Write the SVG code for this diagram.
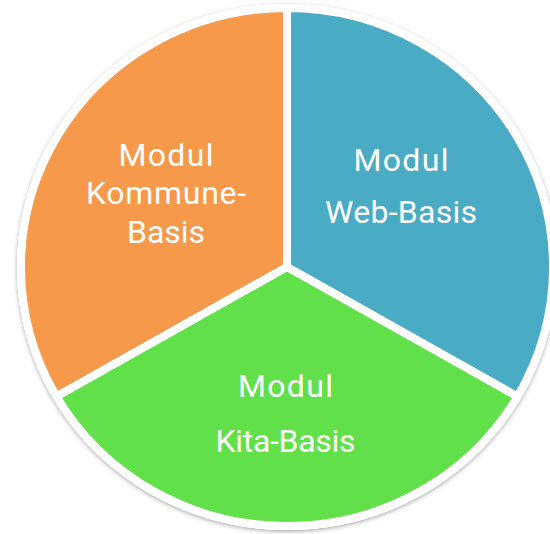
<svg xmlns="http://www.w3.org/2000/svg" width="550" height="534" viewBox="0 0 550 534">
  <defs>
    <filter id="shadow" x="-10%" y="-10%" width="120%" height="120%">
      <feDropShadow dx="0" dy="1.5" stdDeviation="2" flood-color="#000" flood-opacity="0.35"/>
    </filter>
  </defs>
  <style>
    .seg { stroke: #ffffff; stroke-width: 8; stroke-linejoin: miter; }
    .lbl { font-family: Roboto, "Open Sans", "Noto Sans", sans-serif; font-size: 32px; fill: #ffffff; text-anchor: middle; }
  </style>
  <rect width="550" height="534" fill="#ffffff"/>
  <ellipse id="rim" cx="287" cy="267" rx="270" ry="263" fill="#ffffff" filter="url(#shadow)"/>
  <g id="kommune">
    <path class="seg" fill="#F6994A" d="M287,267 L287,8 A266,259 0 0,0 56.6,396.5 Z"/>
    <text class="lbl" x="166" y="166" textLength="95" lengthAdjust="spacing">Modul</text>
    <text class="lbl" x="166" y="204" textLength="160" lengthAdjust="spacing">Kommune-</text>
    <text class="lbl" x="166" y="243" textLength="78" lengthAdjust="spacing">Basis</text>
  </g>
  <g id="web">
    <path class="seg" fill="#4AABC5" d="M287,267 L287,8 A266,259 0 0,1 517.4,396.5 Z"/>
    <text class="lbl" x="401" y="171" textLength="95" lengthAdjust="spacing">Modul</text>
    <text class="lbl" x="401" y="223" textLength="152" lengthAdjust="spacing">Web-Basis</text>
  </g>
  <g id="kita">
    <path class="seg" fill="#61E04A" d="M287,267 L517.4,396.5 A266,259 0 0,1 56.6,396.5 Z"/>
    <text class="lbl" x="285.5" y="397" textLength="95" lengthAdjust="spacing">Modul</text>
    <text class="lbl" x="285.5" y="452" textLength="140" lengthAdjust="spacing">Kita-Basis</text>
  </g>
  <g id="connectors"/>
</svg>
